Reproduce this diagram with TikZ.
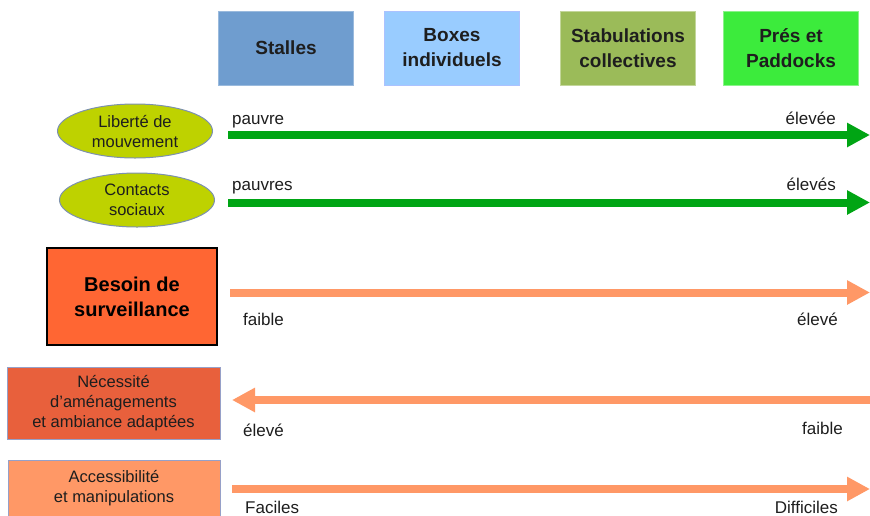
\documentclass[tikz,border=0pt]{standalone}
\usepackage{fontspec}
\setmainfont{Liberation Sans}
\usetikzlibrary{shapes.geometric, arrows.meta}

\definecolor{stallesfill}{RGB}{111,157,207}
\definecolor{boxesfill}{RGB}{153,204,255}
\definecolor{stabfill}{RGB}{155,187,89}
\definecolor{presfill}{RGB}{60,235,60}
\definecolor{ellfill}{RGB}{190,210,0}
\definecolor{ellborder}{RGB}{125,145,175}
\definecolor{besoinfill}{RGB}{255,102,51}
\definecolor{necfill}{RGB}{232,96,60}
\definecolor{saumon}{RGB}{255,152,102}
\definecolor{vertfleche}{RGB}{0,165,20}
\definecolor{grisbord}{RGB}{150,160,200}
\definecolor{texte}{RGB}{30,30,30}

\tikzstyle{lieu} = [draw, rectangle, line width=1pt, text=texte,
    minimum width=135pt, minimum height=74pt, align=center,
    font=\fontsize{19}{25}\selectfont\bfseries]
\tikzstyle{critere} = [ellipse, draw=ellborder, fill=ellfill, line width=1pt,
    minimum width=155pt, minimum height=54pt, inner sep=0pt, align=center,
    text=texte, font=\fontsize{16.5}{20}\selectfont]
\tikzstyle{contrainte} = [draw=grisbord, rectangle, line width=1pt, align=center,
    text=texte, font=\fontsize{16.5}{20}\selectfont]
\tikzstyle{fleche} = [line width=8pt, -{Triangle[length=23pt, width=23pt]}]
\tikzstyle{borne} = [inner sep=0pt, text=texte, font=\fontsize{17}{20}\selectfont]

\begin{document}
\begin{tikzpicture}[x=1pt, y=-1pt]
    \clip (0,0) rectangle (870,515);
    \fill[white] (0,0) rectangle (870,515);

    % types d'hebergement
    \node [lieu, fill=stallesfill, draw=stallesfill!70!white] (stalles) at (286,48) {Stalles};
    \node [lieu, fill=boxesfill, draw=boxesfill!75!blue!60!white] (boxes) at (452,48) {Boxes\\individuels};
    \node [lieu, fill=stabfill, draw=stabfill!60!white] (stab) at (628,48) {Stabulations\\collectives};
    \node [lieu, fill=presfill, draw=presfill!60!white] (pres) at (791,48) {Prés et\\Paddocks};

    % criteres
    \node [critere] (liberte) at (135,131) {Liberté de\\mouvement};
    \node [critere] (contacts) at (137,200) {Contacts\\sociaux};
    \node [draw=black, fill=besoinfill, rectangle, line width=1.5pt, align=center,
        minimum width=170pt, minimum height=97pt, text=black,
        font=\fontsize{20}{25}\selectfont\bfseries] (surv) at (132,296.5) {Besoin de\\surveillance};
    \node [contrainte, fill=necfill, minimum width=213pt, minimum height=72pt] (amenag) at (113.5,403)
        {Nécessité\\d'aménagements\\et ambiance adaptées};
    \node [contrainte, fill=saumon, minimum width=212pt, minimum height=56pt] (acces) at (114,488.5)
        {Accessibilité\\et manipulations};

    % extremites des fleches
    \coordinate (liberteA) at (228,135);
    \coordinate (liberteB) at (870,135);
    \coordinate (contactsA) at (228,202.5);
    \coordinate (contactsB) at (870,202.5);
    \coordinate (survA) at (230,292.5);
    \coordinate (survB) at (870,292.5);
    \coordinate (amenagA) at (870,400);
    \coordinate (amenagB) at (232,400);
    \coordinate (accesA) at (232,489);
    \coordinate (accesB) at (870,489);

    \draw [fleche, vertfleche] (liberteA) -- (liberteB);
    \draw [fleche, vertfleche] (contactsA) -- (contactsB);
    \draw [fleche, saumon] (survA) -- (survB);
    \draw [fleche, saumon] (amenagA) -- (amenagB);
    \draw [fleche, saumon] (accesA) -- (accesB);

    % bornes
    \node [borne, anchor=base west] (lib1) at (232,124) {pauvre};
    \node [borne, anchor=base east] (lib2) at (836,124) {élevée};
    \node [borne, anchor=base west] (con1) at (232,190.5) {pauvres};
    \node [borne, anchor=base east] (con2) at (836,190.5) {élevés};
    \node [borne, anchor=base west] (sur1) at (243,325.5) {faible};
    \node [borne, anchor=base east] (sur2) at (838,325.5) {élevé};
    \node [borne, anchor=base west] (ame1) at (243,436) {élevé};
    \node [borne, anchor=base east] (ame2) at (843,434) {faible};
    \node [borne, anchor=base west] (acc1) at (245,513) {Faciles};
    \node [borne, anchor=base east] (acc2) at (838,513) {Difficiles};

\end{tikzpicture}
\end{document}
